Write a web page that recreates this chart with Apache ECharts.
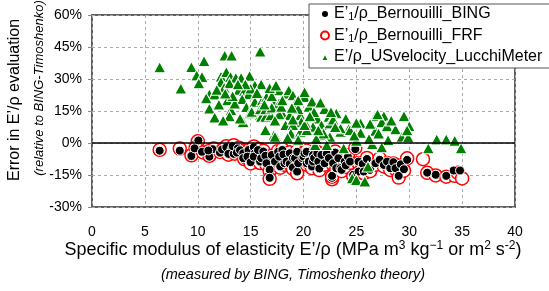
<!DOCTYPE html>
<html>
<head>
<meta charset="utf-8" />
<title>Error in E'/rho evaluation</title>
<script src="https://cdn.jsdelivr.net/npm/echarts@6/dist/echarts.min.js"></script>
</head>
<body style="margin:0;background:#fff">
<div id="main" style="width:549px;height:291px;"></div>
<script>
// series names (legend)
var nameBing = 'E’1/ρ_Bernouilli_BING';
var nameFrf = 'E’1/ρ_Bernouilli_FRF';
var nameUs = 'E’/ρ_USvelocity_LucchiMeter';

// axis ranges / ticks
var xMin = 0, xMax = 40, xStep = 5;
var yMin = -30, yMax = 60, yStep = 15;

// [specific modulus, error %]
var bingData = [
  [6.4,-3.6],[8.3,-3.6],[10.06,1.2],[9.4,-6.1],[9.7,-2.5],[10.4,-4.1],[11.1,-6.4],[11.4,-2.9],[11.0,-3.5],
  [12.1,-4.5],[12.3,-3.0],[12.7,-2.0],[13.2,-2.9],[12.9,-5.1],[13.4,-5.1],[13.3,-1.5],[13.8,-2.5],[13.7,-4.5],
  [14.0,-3.4],[14.3,-4.8],[14.3,-7.1],[14.8,-3.3],[14.7,-6.4],[15.0,-9.0],[15.3,-2.0],[15.4,-4.8],[15.3,-6.4],
  [15.7,-3.3],[15.9,-8.7],[16.0,-7.1],[16.2,-4.0],[16.4,-6.0],[16.5,-9.5],[16.8,-12.5],[16.8,-16.3],[17.0,-5.6],
  [17.3,-8.7],[17.6,-4.1],[17.7,-6.4],[17.8,-11.0],[18.0,-3.3],[18.1,-5.4],[18.2,-9.5],[18.4,-8.7],[18.7,-4.8],
  [18.7,-9.8],[19.0,-7.1],[19.0,-11.5],[19.2,-7.1],[19.4,-4.1],[19.4,-13.4],[19.5,-9.5],[19.9,-7.1],[20.0,-6.4],
  [20.1,-4.8],[20.3,-4.1],[20.3,-9.5],[20.5,-8.7],[20.8,-11.0],[20.9,-5.6],[20.9,-8.7],[21.0,-7.0],[21.3,-4.8],
  [21.4,-8.7],[21.5,-12.0],[21.7,-5.6],[22.0,-9.5],[22.2,-5.0],[22.4,-7.1],[22.7,-16.3],[22.7,-15.4],[22.8,-9.5],
  [23.0,-4.5],[23.1,-11.8],[23.3,-7.1],[23.5,-11.8],[23.6,-12.6],[23.9,-8.7],[24.0,-10.5],[24.2,-6.4],[24.4,-8.7],
  [24.7,-14.9],[24.9,-2.9],[25.2,-8.7],[25.2,-13.4],[25.6,-9.8],[25.7,-13.4],[26.0,-7.5],[26.3,-12.6],[26.8,-9.5],
  [27.2,-7.9],[27.6,-10.3],[27.9,-8.7],[28.2,-11.8],[28.5,-9.0],[28.7,-11.8],[29.0,-15.4],[29.2,-10.0],[29.5,-12.3],
  [29.8,-7.9],[31.7,-13.9],[32.5,-14.9],[33.5,-15.4],[34.2,-12.9],[34.8,-12.9]
];

var frfData = [
  [6.4,-3.2],[8.3,-2.6],[10.0,0.8],[9.4,-5.8],[9.8,-2.2],[10.5,-4.4],[11.1,-6.0],[11.5,-2.6],[11.0,-3.9],
  [12.1,-4.2],[12.4,-3.3],[12.7,-1.5],[13.2,-2.4],[12.9,-5.5],[13.5,-5.0],[13.4,-1.0],[13.9,-2.2],[13.7,-4.0],
  [14.1,-3.8],[14.3,-5.2],[14.4,-7.6],[14.9,-3.0],[14.6,-7.0],[15.0,-9.6],[15.3,-1.6],[15.5,-4.4],[15.2,-7.0],
  [15.8,-2.8],[15.9,-9.4],[16.1,-7.6],[16.2,-3.6],[16.4,-6.5],[16.5,-10.2],[16.8,-13.2],[16.8,-16.8],[17.0,-6.0],
  [17.3,-9.3],[17.6,-3.6],[17.7,-6.8],[17.8,-11.6],[18.0,-2.9],[18.1,-4.8],[18.2,-10.2],[18.5,-9.2],[18.7,-4.3],
  [18.8,-10.4],[19.0,-7.6],[19.0,-12.1],[19.2,-6.5],[19.4,-3.6],[19.4,-14.2],[19.5,-10.2],[19.9,-7.6],[20.0,-5.8],
  [20.1,-4.2],[20.3,-3.5],[20.3,-10.2],[20.5,-9.2],[20.8,-11.8],[20.9,-5.0],[20.9,-9.4],[21.0,-7.6],[21.3,-4.2],
  [21.4,-9.3],[21.5,-12.7],[21.7,-5.0],[22.0,-10.2],[22.2,-4.5],[22.4,-7.6],[22.7,-17.0],[22.7,-15.8],[22.8,-10.2],
  [23.0,-4.0],[23.1,-12.4],[23.3,-6.6],[23.5,-12.6],[23.6,-13.2],[23.9,-9.2],[24.0,-11.2],[24.2,-5.8],[24.4,-9.3],
  [24.7,-15.6],[24.9,-2.3],[25.2,-9.4],[25.2,-14.0],[25.6,-10.4],[25.7,-14.2],[26.0,-7.0],[26.3,-13.2],[26.8,-10.2],
  [27.2,-7.2],[27.6,-11.0],[27.9,-9.4],[28.2,-12.6],[28.5,-9.6],[28.7,-12.4],[29.0,-16.2],[29.2,-10.6],[29.5,-13.0],
  [29.8,-7.2],[31.3,-7.6],[31.7,-14.0],[32.5,-15.2],[33.5,-15.8],[34.3,-15.4],[34.6,-14.0],[35.0,-16.6]
];

var usData = [
  [6.4,35.5],[8.4,25.5],[9.4,35.6],[10.6,38.4],[9.9,31.7],[10.4,31.0],[10.1,28.0],[12.55,41.0],[13.2,41.0],[15.9,42.9],
  [12.2,31.2],[12.7,33.3],[13.1,31.0],[13.6,30.6],[14.1,30.6],[14.9,31.5],[15.4,27.0],[12.2,28.6],[11.1,22.8],[11.6,22.8],
  [11.1,16.2],[12.8,20.0],[13.15,15.5],[13.9,25.0],[14.4,24.4],[14.8,22.9],[14.2,20.6],[14.6,16.9],[14.9,13.9],[15.4,19.3],
  [16.1,20.0],[16.5,21.6],[15.9,13.0],[17.2,18.5],[17.7,18.8],[17.7,24.7],[18.4,23.2],[18.6,24.7],[19.0,22.4],[19.2,18.5],
  [20.1,21.6],[20.1,23.9],[18.1,13.0],[15.1,14.6],[16.0,12.3],[16.4,12.3],[16.9,13.0],[17.7,13.5],[18.7,13.0],[19.7,13.0],
  [19.8,9.9],[21.3,11.5],[22.4,12.3],[23.1,13.9],[20.9,7.6],[21.7,8.4],[22.5,9.2],[18.3,8.4],[19.0,8.4],[14.3,9.9],
  [17.2,3.7],[17.5,2.2],[16.4,6.1],[21.7,3.7],[22.5,2.9],[23.5,5.3],[24.3,6.9],[21.1,-0.9],[22.2,-0.9],[26.8,12.6],
  [27.6,12.6],[29.5,12.6],[24.9,9.2],[25.4,9.2],[27.4,9.9],[27.9,7.9],[23.5,6.9],[24.4,6.1],[25.4,4.8],[26.8,5.7],
  [27.1,4.5],[28.7,6.4],[29.3,2.9],[29.9,2.7],[28.0,1.4],[26.5,-0.5],[27.4,-2.0],[25.0,1.1],[23.8,-2.5],[32.6,1.7],
  [33.5,1.7],[34.3,1.1],[31.8,-2.5],[34.9,-2.5],[20.2,9.2],[21.9,4.5],[25.0,9.5],[24.6,-16.5],[25.0,-17.3],[25.8,-18.0],
  [26.1,-11.0],[17.3,2.9],[18.8,4.5],[19.7,5.3],[20.3,6.1],[20.1,8.4],[15.9,15.8],[16.4,15.8],[17.0,16.6],[17.9,17.0],
  [12.0,18.0],[13.5,18.5],[13.0,12.5],[11.6,12.0],[12.4,10.5],[14.0,11.5],[17.3,10.5],[13.3,22.0],[15.0,25.5],[16.0,27.5],
  [17.0,22.0],[18.0,20.0],[19.5,16.0],[20.5,17.0],[21.0,14.5],[22.0,16.0],[19.0,11.0],[20.6,12.5],[12.5,26.0],[11.8,25.0],
  [10.8,21.0],[14.5,27.5],[16.8,25.8],[19.5,20.0],[20.8,19.5],[22.8,11.0],[24.0,11.5],[23.0,7.5],[26.3,9.0],[28.3,10.5],
  [27.0,13.5],[30.0,8.0],[29.8,6.0],[26.2,2.0],[24.8,3.5],[21.2,2.0],[19.5,1.5],[18.5,2.5],
  [13.0,28.0],[13.8,27.5],[15.6,23.5],[16.3,18.0],[18.9,16.5],[21.6,19.0],[22.6,14.5],[12.6,23.2],[17.4,27.0],[21.4,6.0]
];

var font = '"Liberation Sans", Arial, sans-serif';

var chart = echarts.init(document.getElementById('main'));
var option = {
  animation: false,
  backgroundColor: '#fff',
  textStyle: { fontFamily: font, color: '#000' },
  grid: {
    left: 92, right: 34, top: 15, bottom: 84,
    show: true, borderColor: '#606060', borderWidth: 2, backgroundColor: '#fff'
  },
  legend: {
    data: [nameBing, nameFrf, nameUs],
    orient: 'vertical',
    left: 309, top: 4,
    padding: [2, 8, 3, 11],
    itemGap: 5,
    itemWidth: 8, itemHeight: 8,
    backgroundColor: '#fff',
    borderColor: '#555', borderWidth: 1, borderRadius: 0,
    formatter: function (n) {
      if (n.indexOf('E’1') === 0) return '{t|E’}{s|1}{t|' + n.slice(3) + '}';
      return '{t|' + n + '}';
    },
    textStyle: {
      fontFamily: font, color: '#000', fontSize: 16,
      rich: {
        t: { fontFamily: font, fontSize: 16, lineHeight: 17, color: '#000' },
        s: { fontFamily: font, fontSize: 11, verticalAlign: 'bottom', color: '#000' }
      }
    }
  },
  xAxis: {
    type: 'value', min: xMin, max: xMax, interval: xStep,
    axisLine: { show: false },
    axisTick: { show: false },
    axisLabel: { fontSize: 14, color: '#000', margin: 18, fontFamily: font },
    splitLine: { show: true, lineStyle: { color: '#aaa', type: [3, 3], width: 1 } }
  },
  yAxis: {
    type: 'value', min: yMin, max: yMax, interval: yStep,
    axisLine: { show: false },
    axisTick: { show: true, length: 4, lineStyle: { color: '#888' } },
    axisLabel: { fontSize: 14, color: '#000', margin: 10, fontFamily: font, formatter: '{value}%' },
    splitLine: { show: true, lineStyle: { color: '#aaa', type: [3, 3], width: 1 } }
  },
  graphic: [
    { type: 'text', x: 15, y: 100, rotation: Math.PI / 2,
      style: { text: 'Error in E’/ρ evaluation', font: '16px ' + font, fill: '#000', align: 'center', verticalAlign: 'middle' } },
    { type: 'text', x: 39, y: 88, rotation: Math.PI / 2,
      style: { text: '(relative to BING-Timoshenko)', font: 'italic 13px ' + font, fill: '#000', align: 'center', verticalAlign: 'middle' } },
    { type: 'text', x: 293, y: 250,
      style: {
        text: '{a|Specific modulus of elasticity E’/ρ (MPa m}{p|3}{a| kg}{p|−1}{a| or m}{p|2}{a| s}{p|-2}{a|)}',
        align: 'center', verticalAlign: 'middle',
        rich: {
          a: { fontFamily: font, fontSize: 18, lineHeight: 20, fill: '#000', color: '#000' },
          p: { fontFamily: font, fontSize: 12, verticalAlign: 'top', fill: '#000', color: '#000' }
        }
      } },
    { type: 'text', x: 293, y: 275,
      style: { text: '(measured by BING, Timoshenko theory)', font: 'italic 14.5px ' + font, fill: '#000', align: 'center', verticalAlign: 'middle' } }
  ],
  series: [
    {
      name: nameFrf, type: 'scatter', z: 2,
      symbol: 'circle', symbolSize: 13,
      itemStyle: { color: '#fff', borderColor: '#ff0000', borderWidth: 1.5, opacity: 1 },
      data: frfData,
      markLine: {
        silent: true, symbol: 'none', label: { show: false },
        lineStyle: { color: '#000', width: 1.5, type: 'solid' },
        data: [{ yAxis: 0 }]
      }
    },
    {
      name: nameBing, type: 'scatter', z: 3,
      symbol: 'circle', symbolSize: 9,
      itemStyle: { color: '#000', borderColor: '#fff', borderWidth: 1, opacity: 1 },
      data: bingData
    },
    {
      name: nameUs, type: 'scatter', z: 4,
      symbol: 'triangle', symbolSize: [12, 11],
      itemStyle: { color: '#008000', borderColor: '#fff', borderWidth: 1, opacity: 1 },
      data: usData
    }
  ]
};
chart.setOption(option);
</script>
</body>
</html>
